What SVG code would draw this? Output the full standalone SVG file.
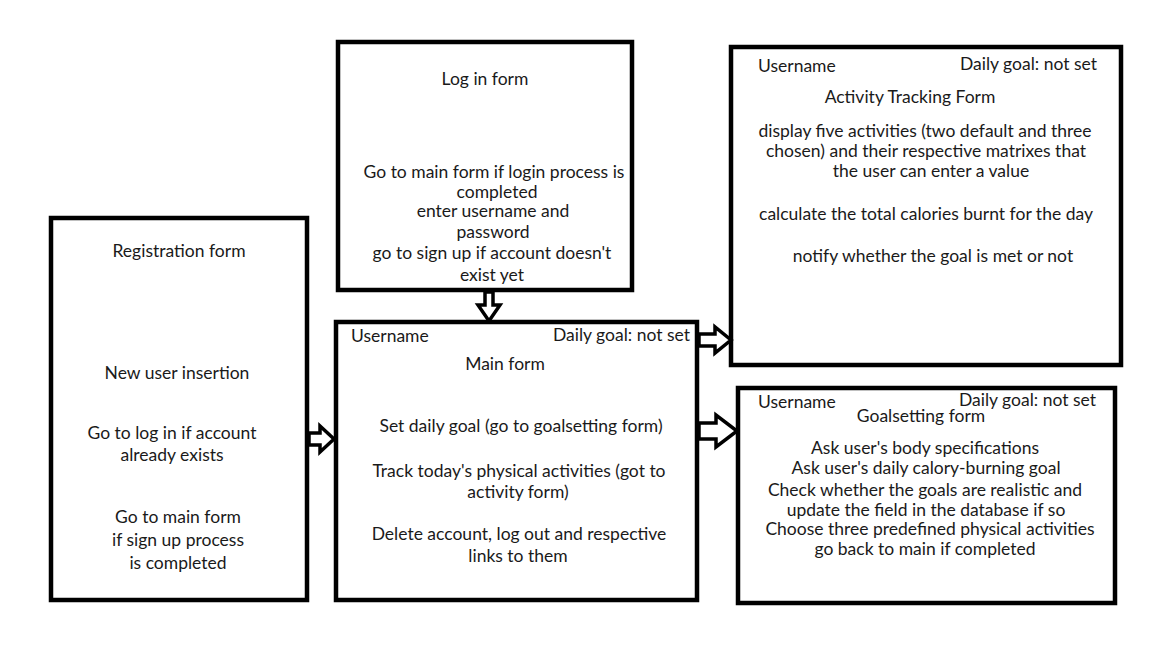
<svg xmlns="http://www.w3.org/2000/svg" width="1152" height="648" viewBox="0 0 1152 648">
<style>
.box{fill:#fff;stroke:#000;stroke-width:4.5}
.t{font-family:Lato,"Open Sans",sans-serif;font-size:17.5px;fill:#1a1a1a}
.c{text-anchor:middle}
.r{text-anchor:end}
.arr{fill:#fff;stroke:#000;stroke-width:3.5;stroke-linejoin:miter}
</style>
<rect width="1152" height="648" fill="#fff"/>
<g id="login">
<rect class="box" x="338" y="42" width="294" height="248"/>
<text class="t c" x="485" y="85">Log in form</text>
<text class="t c" x="494" y="178">Go to main form if login process is</text>
<text class="t c" x="497" y="198">completed</text>
<text class="t c" x="493" y="217">enter username and</text>
<text class="t c" x="493" y="238">password</text>
<text class="t c" x="492" y="259">go to sign up if account doesn't</text>
<text class="t c" x="492" y="281">exist yet</text>
</g>
<g id="registration">
<rect class="box" x="51" y="218" width="256" height="382"/>
<text class="t c" x="179" y="257">Registration form</text>
<text class="t c" x="177" y="379">New user insertion</text>
<text class="t c" x="172" y="439">Go to log in if account</text>
<text class="t c" x="172" y="461">already exists</text>
<text class="t c" x="178" y="523">Go to main form</text>
<text class="t c" x="178" y="546">if sign up process</text>
<text class="t c" x="178" y="569">is completed</text>
</g>
<g id="main">
<rect class="box" x="336" y="322" width="361" height="278"/>
<text class="t" x="351" y="342">Username</text>
<text class="t r" x="690" y="341">Daily goal: not set</text>
<text class="t c" x="505" y="370">Main form</text>
<text class="t c" x="521" y="432">Set daily goal (go to goalsetting form)</text>
<text class="t c" x="519" y="477">Track today's physical activities (got to</text>
<text class="t c" x="518" y="498">activity form)</text>
<text class="t c" x="519" y="540">Delete account, log out and respective</text>
<text class="t c" x="518" y="562">links to them</text>
</g>
<g id="activity">
<rect class="box" x="731" y="47" width="390" height="318"/>
<text class="t" x="758" y="72">Username</text>
<text class="t r" x="1097" y="70">Daily goal: not set</text>
<text class="t c" x="910" y="103">Activity Tracking Form</text>
<text class="t c" x="925" y="137">display five activities (two default and three</text>
<text class="t c" x="926" y="157">chosen) and their respective matrixes that</text>
<text class="t c" x="931" y="177">the user can enter a value</text>
<text class="t c" x="926" y="220">calculate the total calories burnt for the day</text>
<text class="t c" x="933" y="262">notify whether the goal is met or not</text>
</g>
<g id="goalsetting">
<rect class="box" x="738" y="388" width="377" height="215"/>
<text class="t" x="758" y="408">Username</text>
<text class="t r" x="1096" y="406">Daily goal: not set</text>
<text class="t c" x="921" y="422">Goalsetting form</text>
<text class="t c" x="925" y="454">Ask user's body specifications</text>
<text class="t c" x="926" y="474">Ask user's daily calory-burning goal</text>
<text class="t c" x="925" y="496">Check whether the goals are realistic and</text>
<text class="t c" x="926" y="516">update the field in the database if so</text>
<text class="t c" x="930" y="535">Choose three predefined physical activities</text>
<text class="t c" x="925" y="555">go back to main if completed</text>
</g>
<g id="connectors">
<polygon class="arr" points="485,292 493,292 493,305 500,305 489,321 478,305 485,305"/>
<polygon class="arr" points="699,334 715,334 715,327 731,340 715,353 715,346 699,346"/>
<polygon class="arr" points="699,423 716,423 716,415 737,431 716,447 716,439 699,439"/>
<polygon class="arr" points="309,433 320,433 320,426 334,439 320,452 320,445 309,445"/>
</g>
</svg>
